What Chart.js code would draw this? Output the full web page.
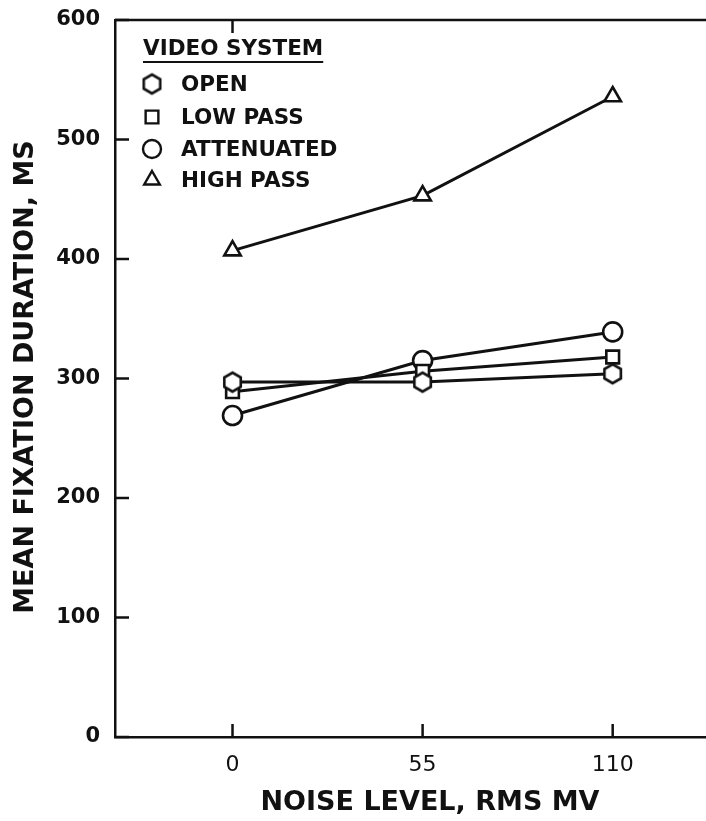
<!DOCTYPE html>
<html>
<head>
<meta charset="utf-8">
<script src="https://cdn.jsdelivr.net/npm/chart.js@4/dist/chart.umd.min.js"></script>
<style>
  body { margin: 0; background: #ffffff; }
  #wrap { width: 706px; height: 821px; overflow: hidden; }
</style>
</head>
<body>
<div id="wrap"><canvas id="chart" width="706" height="821"></canvas></div>
<script>
// --- DATA ---
const noiseLevels = [0, 55, 110];
const openMs = [297, 297, 304];
const lowPassMs = [289, 306, 318];
const attenuatedMs = [269, 315, 339];
const highPassMs = [407, 453, 536];
const xTickValues = [0, 55, 110];
const seriesNames = ['OPEN', 'LOW PASS', 'ATTENUATED', 'HIGH PASS'];
const legendTitle = 'VIDEO SYSTEM';
const xTitle = 'NOISE LEVEL, RMS MV';
const yTitle = 'MEAN FIXATION DURATION, MS';

const INK = '#111111';

// hexagon marker (not a built-in pointStyle)
function makeHexagon(r, lw) {
    const c = document.createElement('canvas');
    const s = Math.ceil(2 * r + lw * 2);
    c.width = s; c.height = s;
    const g = c.getContext('2d');
    g.beginPath();
    for (let i = 0; i < 6; i++) {
        const a = Math.PI / 2 + i * Math.PI / 3;
        const px = s / 2 + r * Math.cos(a), py = s / 2 + r * Math.sin(a);
        if (i === 0) g.moveTo(px, py); else g.lineTo(px, py);
    }
    g.closePath();
    g.fillStyle = '#fff';
    g.fill();
    g.lineWidth = lw;
    g.strokeStyle = INK;
    g.stroke();
    return c;
}
const hexMarker = makeHexagon(9.5, 2.6);

const markerStyles = [hexMarker, 'rect', 'circle', 'triangle'];
const seriesValues = [openMs, lowPassMs, attenuatedMs, highPassMs];

const datasets = seriesValues.map((vals, i) => ({
    label: seriesNames[i],
    data: noiseLevels.map((x, j) => ({ x: x, y: vals[j] })),
    borderColor: INK,
    borderWidth: 3,
    backgroundColor: '#ffffff',
    pointStyle: markerStyles[i],
    pointRadius: markerStyles[i] === 'rect' ? 9 : 9.5,
    pointBorderColor: INK,
    pointBorderWidth: 2.6,
    pointBackgroundColor: '#ffffff',
    tension: 0
}));

// frame, inward ticks, titles and the boxed-in legend
const frameAndLegend = {
    id: 'frameAndLegend',
    afterDraw(chart) {
        const ctx = chart.ctx;
        const area = chart.chartArea;
        const xs = chart.scales.x, ys = chart.scales.y;
        ctx.save();
        ctx.strokeStyle = INK;
        ctx.lineWidth = 2.5;

        // top border
        ctx.beginPath();
        ctx.moveTo(area.left, area.top);
        ctx.lineTo(area.right, area.top);
        ctx.stroke();

        // inward ticks on left axis
        ys.ticks.forEach(t => {
            const py = ys.getPixelForValue(t.value);
            ctx.beginPath();
            ctx.moveTo(area.left, py);
            ctx.lineTo(area.left + 14, py);
            ctx.stroke();
        });
        // inward ticks on bottom axis and one on the top border
        xs.ticks.forEach(t => {
            const px = xs.getPixelForValue(t.value);
            ctx.beginPath();
            ctx.moveTo(px, area.bottom);
            ctx.lineTo(px, area.bottom - 13);
            ctx.stroke();
        });
        const topTick = xs.getPixelForValue(xTickValues[0]);
        ctx.beginPath();
        ctx.moveTo(topTick, area.top);
        ctx.lineTo(topTick, area.top + 13);
        ctx.stroke();

        // axis titles
        ctx.fillStyle = INK;
        ctx.font = 'bold 27px "DejaVu Sans"';
        ctx.textAlign = 'center';
        ctx.textBaseline = 'middle';
        ctx.fillText(xTitle, 430, 803);
        ctx.save();
        ctx.translate(26, 377);
        ctx.rotate(-Math.PI / 2);
        ctx.fillText(yTitle, 0, 0);
        ctx.restore();

        // legend
        ctx.font = 'bold 21.5px "DejaVu Sans"';
        ctx.textAlign = 'left';
        ctx.fillText(legendTitle, 143, 49);
        const w = ctx.measureText(legendTitle).width;
        ctx.lineWidth = 2.2;
        ctx.beginPath();
        ctx.moveTo(143, 62);
        ctx.lineTo(143 + w, 62);
        ctx.stroke();

        const rows = [84, 117, 149, 180];
        seriesNames.forEach((name, i) => {
            ctx.fillStyle = '#ffffff';
            ctx.strokeStyle = INK;
            ctx.lineWidth = 2.4;
            Chart.helpers.drawPoint(ctx, {
                pointStyle: markerStyles[i],
                radius: 9,
                borderWidth: 2.4,
                rotation: 0
            }, 152, rows[i]);
            ctx.fillStyle = INK;
            ctx.fillText(name, 181, rows[i] + 1);
        });
        ctx.restore();
    }
};

new Chart(document.getElementById('chart'), {
    type: 'line',
    data: { datasets: datasets },
    options: {
        responsive: false,
        animation: false,
        layout: { autoPadding: false, padding: { left: 0, right: 0, top: 20, bottom: 0 } },
        plugins: {
            legend: { display: false },
            tooltip: { enabled: false }
        },
        scales: {
            x: {
                type: 'linear',
                min: -34,
                max: 137,
                afterBuildTicks: scale => {
                    scale.ticks = xTickValues.map(v => ({ value: v }));
                },
                afterFit: scale => {
                    scale.height = 84;
                    scale.paddingRight = 0;
                    scale.paddingLeft = 0;
                },
                grid: { display: false, drawTicks: false },
                border: { display: true, color: INK, width: 2.5 },
                ticks: {
                    color: INK,
                    padding: 15,
                    font: { family: 'DejaVu Sans', size: 22 },
                    maxRotation: 0
                }
            },
            y: {
                min: 0,
                max: 600,
                afterFit: scale => {
                    scale.width = 115;
                    scale.paddingTop = 0;
                    scale.paddingBottom = 0;
                },
                grid: { display: false, drawTicks: false },
                border: { display: true, color: INK, width: 2.5 },
                ticks: {
                    stepSize: 100,
                    color: INK,
                    padding: 15,
                    font: { family: 'DejaVu Sans', size: 21, weight: 'bold' }
                }
            }
        }
    },
    plugins: [frameAndLegend]
});
</script>
</body>
</html>
